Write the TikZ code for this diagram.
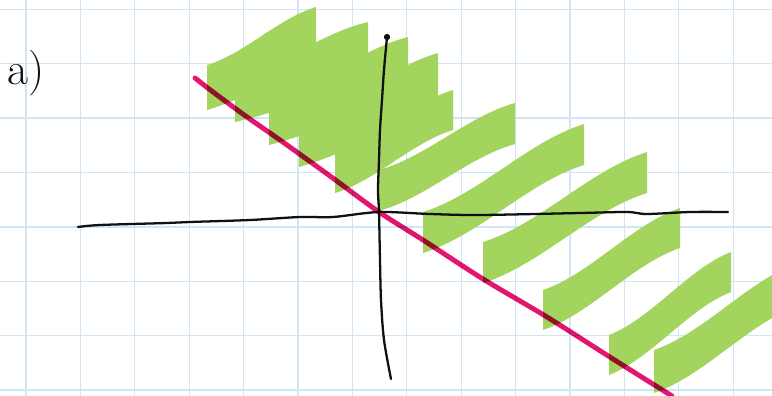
\documentclass[tikz,border=0pt]{standalone}
\usepackage{tikz}
\usepackage{xcolor}
\usetikzlibrary{positioning}
\definecolor{gridblue}{HTML}{D0E6F4}
\definecolor{leaf}{HTML}{A2D45E}
\definecolor{cut}{HTML}{E3166D}
\definecolor{ink}{HTML}{111111}

\begin{document}
\begin{tikzpicture}[x=0.02cm, y=-0.02cm, line cap=round, line join=round]
  \useasboundingbox (0,0) rectangle (772,396);
  \clip (0,0) rectangle (772,396);

  % Grid paper
  \foreach \k in {0,...,13} {
    \draw[gridblue, line width=0.7pt] ({26+54.4*\k},0) -- ({26+54.4*\k},396);
  }
  \foreach \k in {0,...,7} {
    \draw[gridblue, line width=0.7pt] (0,{9.3+54.4*\k}) -- (772,{9.3+54.4*\k});
  }

  % Shaded strips
  \foreach \xa/\ya/\xb/\yb/\hl/\hr in {207/65/316/7/45/60, 235/77/368/22/45/62, 269/100/408/37/45/62,
      299/122/438/53/45/60, 335/153/453/90/40/40, 379/170/515/103/41/41, 423/212/584/124/41/41,
      483/242/647/152/41/41, 543/290/680/208/40/40, 609/335/731/252/40/40, 654/350/800/262/43/43} {
    \fill[leaf] (\xa,\ya)
      .. controls ({\xa+0.35*(\xb-\xa)},{\ya+0.2*(\yb-\ya)}) and ({\xb-0.35*(\xb-\xa)},{\yb-0.2*(\yb-\ya)}) .. (\xb,\yb)
      -- (\xb,{\yb+\hr})
      .. controls ({\xb-0.35*(\xb-\xa)},{\yb+\hr-0.2*(\yb-\ya)}) and ({\xa+0.35*(\xb-\xa)},{\ya+\hl+0.2*(\yb-\ya)}) .. (\xa,{\ya+\hl})
      -- cycle;
  }

  % Axes
  \coordinate (O) at (379,212);
  \draw[ink, line width=1.3pt] plot[smooth] coordinates {(78,227) (100,225) (167,223) (190,222)
    (250,220) (300,217) (333,217) (O) (430,214) (480,215) (580,213) (627,212) (647,214) (690,212) (728,212)};
  \draw[ink, line width=1.3pt] plot[smooth] coordinates {(387,37) (384,70) (382,100) (380,130)
    (379,160) (378,190) (O) (380,260) (381,300) (384,340) (391,379)};
  \fill[ink] (387,37) circle (1.8pt);

  % Boundary line
  \draw[cut, line width=2.8pt, blend mode=multiply] plot[smooth] coordinates {(195,78) (213,92) (247,117)
    (280,140) (330,176) (O) (423,240) (483,279) (547,317) (613,359) (672,396)};

  \node[ink, font=\fontsize{26}{26}\selectfont] (tag) at (26,73) {a)};
\end{tikzpicture}
\end{document}
